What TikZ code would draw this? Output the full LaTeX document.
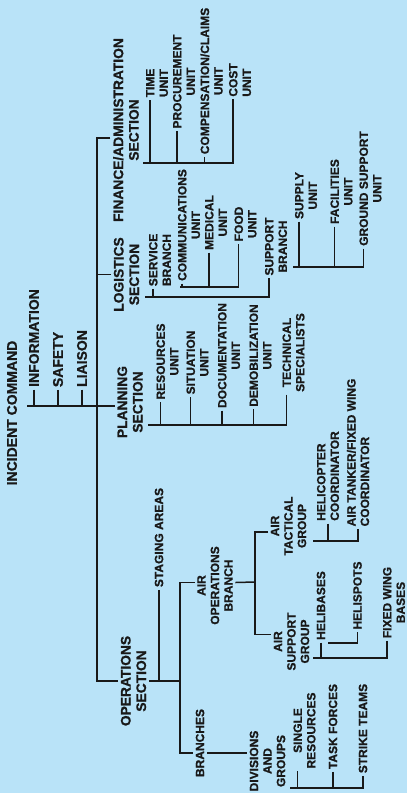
\documentclass[tikz,border=0pt]{standalone}
\usepackage{fontspec}
\setmainfont{Liberation Sans}[BoldFeatures={FakeBold=0.9}]
\usetikzlibrary{calc}
\definecolor{chartbg}{RGB}{185,227,248}
\definecolor{ink}{RGB}{25,25,25}

\begin{document}
\begin{tikzpicture}[x=1pt,y=-1pt,line width=1.5pt,color=ink,
    every node/.style={rotate=90,inner sep=2pt},
    chief/.style={font=\bfseries\fontsize{14}{16}\selectfont},
    sect/.style={font=\bfseries\fontsize{13.8}{15.5}\selectfont,align=center},
    unit/.style={font=\bfseries\fontsize{12}{13.5}\selectfont,align=center}]

\fill[chartbg] (0,0) rectangle (407,793);
\useasboundingbox (0,0) rectangle (407,793);

% command and staff
\node[chief] (ic) at (12,413) {INCIDENT COMMAND};
\node[chief] (info) at (34,338) {INFORMATION};
\node[chief] (safety) at (58,359.5) {SAFETY};
\node[chief] (liaison) at (82,358.5) {LIAISON};

% sections
\node[sect] (finsec) at (126,130) {FINANCE/ADMINISTRATION\\SECTION};
\node[sect] (logsec) at (126.5,274.5) {LOGISTICS\\SECTION};
\node[sect] (plansec) at (130,402) {PLANNING\\SECTION};
\node[sect] (opsec) at (133.5,681) {OPERATIONS\\SECTION};

% finance units
\node[unit] (timeu) at (157,83) {TIME\\UNIT};
\node[unit] (procu) at (184,81.5) {PROCUREMENT\\UNIT};
\node[unit] (compu) at (211.5,81) {COMPENSATION/CLAIMS\\UNIT};
\node[unit,align=left] (costu) at (240,80) {COST\\UNIT};

% logistics units
\node[unit] (servb) at (160,260) {SERVICE\\BRANCH};
\node[unit] (suppb) at (276,246.5) {SUPPORT\\BRANCH};
\node[unit] (commu) at (189,225) {COMMUNICATIONS\\UNIT};
\node[unit] (medu) at (216,222.5) {MEDICAL\\UNIT};
\node[unit] (foodu) at (245.5,224) {FOOD\\UNIT};
\node[unit] (supplyu) at (306,195.5) {SUPPLY\\UNIT};
\node[unit] (facu) at (341.5,191.5) {FACILITIES\\UNIT};
\node[unit] (groundu) at (370.5,188.5) {GROUND SUPPORT\\UNIT};

% planning units
\node[unit] (resu) at (167.5,361.5) {RESOURCES\\UNIT};
\node[unit] (situ) at (197.5,362.5) {SITUATION\\UNIT};
\node[unit] (docu) at (229,355.5) {DOCUMENTATION\\UNIT};
\node[unit] (demu) at (260.5,355.5) {DEMOBILIZATION\\UNIT};
\node[unit] (techs) at (293.5,352.5) {TECHNICAL\\SPECIALISTS};

% operations
\node[unit] (staging) at (159,537.5) {STAGING AREAS};
\node[unit] (aob) at (215,585.5) {AIR\\OPERATIONS\\BRANCH};
\node[unit] (branches) at (200,743) {BRANCHES};
\node[unit] (divg) at (267.5,761) {DIVISIONS\\AND\\GROUPS};
\node[unit] (atg) at (288.5,526) {AIR\\TACTICAL\\GROUP};
\node[unit] (asg) at (291.5,641.5) {AIR\\SUPPORT\\GROUP};
\node[unit,align=left] (helic) at (328,476) {HELICOPTER\\COORDINATOR};
\node[unit,align=left] (atfw) at (358,452.5) {AIR TANKER/FIXED WING\\COORDINATOR};
\node[unit] (helib) at (321,605.5) {HELIBASES};
\node[unit] (helisp) at (357.5,595.5) {HELISPOTS};
\node[unit] (fwb) at (394,602.5) {FIXED WING\\BASES};
\node[unit] (singler) at (304.5,730.5) {SINGLE\\RESOURCES};
\node[unit] (taskf) at (333,726.5) {TASK FORCES};
\node[unit] (strike) at (363,728.5) {STRIKE TEAMS};

% bar ends
\coordinate (trunk) at (97,0);
\coordinate (staff) at (27,406);
\coordinate (fbar) at (143,163);
\coordinate (lbar) at (145,297);
\coordinate (sbar) at (180,287);
\coordinate (subar) at (293,267);
\coordinate (plbar) at (148,425);
\coordinate (obar) at (180,681);
\coordinate (abar) at (255,582);
\coordinate (tbar) at (313,541);
\coordinate (gbar) at (313,658);
\coordinate (hsp) at (328,643);
\coordinate (dbar) at (290,788);
\coordinate (brin) at ([yshift=-10pt]branches.north);
\coordinate (brout) at ([yshift=-10pt]branches.south);

% staff and trunk
\draw (staff) -- (staff -| plansec.north);
\foreach \n in {info,safety,liaison} \draw (\n.west) -- (\n.west |- staff);
\draw ([yshift=-8pt]finsec.north) -| (trunk |- opsec.north) -- (opsec.north);
\draw (logsec.north) -- (logsec.north -| trunk);

% finance
\foreach \n in {timeu,procu,compu,costu}
    \draw ($(\n.north west)!.25!(\n.south west)$) |- (fbar);

% logistics
\foreach \n in {servb,suppb}
    \draw ($(\n.north west)!.25!(\n.south west)$) |- (lbar);
\foreach \n in {commu,medu,foodu}
    \draw ($(\n.north west)!.25!(\n.south west)$) |- (sbar);
\foreach \n in {supplyu,facu,groundu}
    \draw ($(\n.north west)!.25!(\n.south west)$) |- (subar);

% planning
\foreach \n in {resu,situ,docu,demu,techs}
    \draw ($(\n.north west)!.25!(\n.south west)$) |- (plbar);

% operations
\draw (opsec.south) -- (obar);
\draw (staging.west) -- (staging.west |- obar);
\draw ([yshift=3pt]aob.north) -| (brin -| obar) -- (brin);
\draw (brout) -- (brout -| divg.north);
\draw ([yshift=3pt]aob.south) -- (abar);
\draw ([yshift=-6pt]atg.north) -| (abar) |- ([yshift=7pt]asg.north);
\foreach \n in {helic,atfw} \draw (\n.west) |- (tbar);
\draw (helib.west) |- (gbar);
\draw ($(fwb.north west)!.25!(fwb.south west)$) |- (gbar);
\draw (helisp.west) |- (hsp);
\draw ($(singler.north west)!.25!(singler.south west)$) |- (dbar);
\foreach \n in {taskf,strike} \draw (\n.west) |- (dbar);
\end{tikzpicture}
\end{document}
